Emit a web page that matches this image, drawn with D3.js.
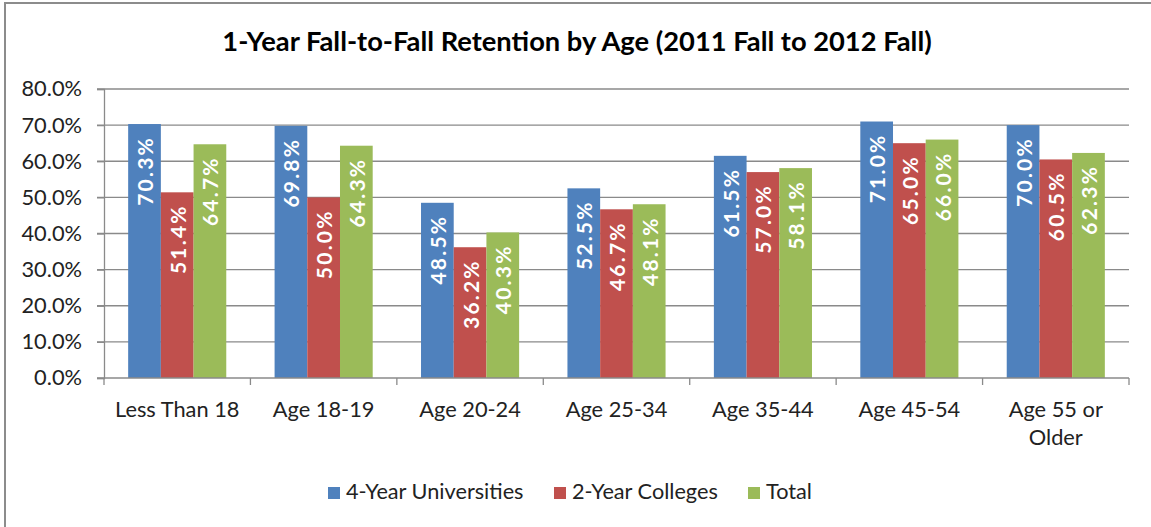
<!DOCTYPE html>
<html>
<head>
<meta charset="utf-8">
<script src="https://cdn.jsdelivr.net/npm/d3@7"></script>
<style>
  html, body { margin: 0; padding: 0; background: #fff; }
  svg { display: block; }
  text { font-family: Lato, "Open Sans", sans-serif; }
</style>
</head>
<body>
<svg id="chart" width="1151" height="527"></svg>
<script>
const categories = ["Less Than 18", "Age 18-19", "Age 20-24", "Age 25-34", "Age 35-44", "Age 45-54", "Age 55 or Older"];
const categoryLines = [["Less Than 18"], ["Age 18-19"], ["Age 20-24"], ["Age 25-34"], ["Age 35-44"], ["Age 45-54"], ["Age 55 or", "Older"]];
const seriesNames = ["4-Year Universities", "2-Year Colleges", "Total"];
const fourYear = [70.3, 69.8, 48.5, 52.5, 61.5, 71.0, 70.0];
const twoYear = [51.4, 50.0, 36.2, 46.7, 57.0, 65.0, 60.5];
const total = [64.7, 64.3, 40.3, 48.1, 58.1, 66.0, 62.3];
const yTicks = [0, 10, 20, 30, 40, 50, 60, 70, 80];
const colors = ["#4F81BD", "#C0504D", "#9BBB59"];
const title = "1-Year Fall-to-Fall Retention by Age (2011 Fall to 2012 Fall)";

const seriesValues = [fourYear, twoYear, total];

const svg = d3.select("#chart");
const W = 1151, H = 527;
const plot = { left: 104, right: 1129, top: 89, bottom: 378 };

// outer frame
svg.append("rect")
  .attr("x", 5).attr("y", 3).attr("width", W + 20).attr("height", H + 20)
  .attr("fill", "#fff").attr("stroke", "#8c8c8c").attr("stroke-width", 2);

// title
svg.append("text")
  .attr("x", 577).attr("y", 51)
  .attr("text-anchor", "middle")
  .attr("font-size", 27.3).attr("font-weight", "bold").attr("fill", "#000")
  .text(title);

const x0 = d3.scaleBand().domain(categories).range([plot.left, plot.right]).paddingInner(0).paddingOuter(0);
const bandPad = 0.165;
const x1 = d3.scaleBand().domain(seriesNames)
  .range([x0.bandwidth() * bandPad, x0.bandwidth() * (1 - bandPad)]).padding(0);
const y = d3.scaleLinear().domain([0, 80]).range([plot.bottom, plot.top]);

// gridlines
svg.append("g").selectAll("line").data(yTicks.filter(d => d > 0)).join("line")
  .attr("x1", plot.left - 7).attr("x2", plot.right)
  .attr("y1", d => y(d)).attr("y2", d => y(d))
  .attr("stroke", "#8a8a8a").attr("stroke-width", 1.3);

// y axis
const yAxis = d3.axisLeft(y).tickValues(yTicks).tickSize(7).tickPadding(15)
  .tickFormat(d => d3.format(".1f")(d) + "%");
const gy = svg.append("g").attr("transform", `translate(${plot.left},0)`).call(yAxis);
gy.select(".domain").attr("stroke", "#8a8a8a").attr("stroke-width", 1.3);
gy.selectAll(".tick line").attr("stroke", "#8a8a8a").attr("stroke-width", 1.3);
gy.selectAll(".tick text").attr("font-size", 21.8).attr("fill", "#222")
  .style("font-family", "Lato, sans-serif");

// bars
const groups = svg.append("g").selectAll("g").data(categories).join("g")
  .attr("transform", d => `translate(${x0(d)},0)`);

groups.each(function(cat, ci) {
  const g = d3.select(this);
  seriesNames.forEach((s, si) => {
    const v = seriesValues[si][ci];
    g.append("rect")
      .attr("x", x1(s)).attr("y", y(v))
      .attr("width", x1.bandwidth()).attr("height", y(0) - y(v))
      .attr("fill", colors[si]);
  });
  seriesNames.forEach((s, si) => {
    const v = seriesValues[si][ci];
    const cx = x1(s) + x1.bandwidth() / 2;
    const ty = y(v) + 12;
    g.append("text")
      .attr("transform", `translate(${cx},${ty}) rotate(-90)`)
      .attr("text-anchor", "end").attr("dominant-baseline", "central")
      .attr("font-size", 21).attr("font-weight", "bold").attr("fill", "#fff")
      .attr("letter-spacing", 2.2)
      .text(d3.format(".1f")(v) + "%");
  });
});

// x axis
const xAxisG = svg.append("g");
xAxisG.append("line")
  .attr("x1", plot.left - 7).attr("x2", plot.right)
  .attr("y1", plot.bottom).attr("y2", plot.bottom)
  .attr("stroke", "#8a8a8a").attr("stroke-width", 1.3);
const bounds = categories.map(c => x0(c)).concat([plot.right]);
xAxisG.selectAll("line.tk").data(bounds).join("line").attr("class", "tk")
  .attr("x1", d => d).attr("x2", d => d)
  .attr("y1", plot.bottom).attr("y2", plot.bottom + 7)
  .attr("stroke", "#8a8a8a").attr("stroke-width", 1.3);
categories.forEach((c, i) => {
  const t = xAxisG.append("text")
    .attr("x", x0(c) + x0.bandwidth() / 2).attr("y", 417)
    .attr("text-anchor", "middle").attr("font-size", 21.8).attr("fill", "#222");
  categoryLines[i].forEach((ln, li) => {
    t.append("tspan").attr("x", x0(c) + x0.bandwidth() / 2)
      .attr("dy", li === 0 ? 0 : 28).text(ln);
  });
});

// legend
const legendX = [328, 554, 748];
const legend = svg.append("g");
seriesNames.forEach((s, i) => {
  legend.append("rect").attr("x", legendX[i]).attr("y", 487)
    .attr("width", 12).attr("height", 12).attr("fill", colors[i]);
  legend.append("text").attr("x", legendX[i] + 18).attr("y", 499)
    .attr("font-size", 21.7).attr("fill", "#222").text(s);
});
</script>
</body>
</html>
